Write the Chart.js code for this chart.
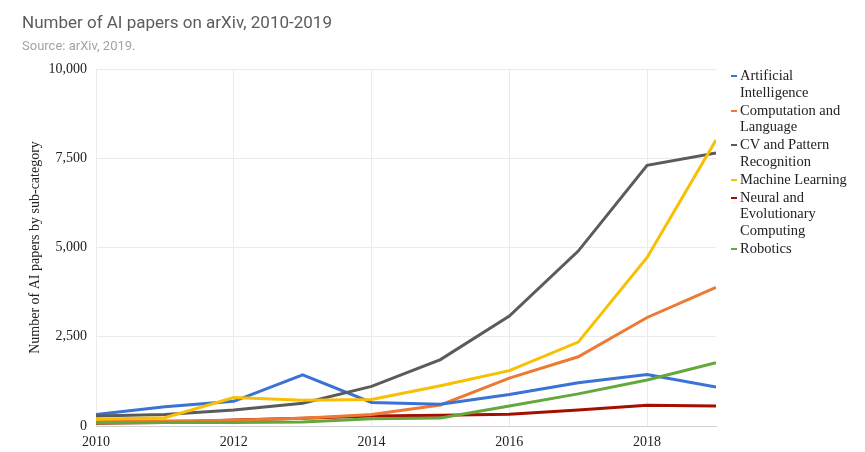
<!DOCTYPE html>
<html>
<head>
<meta charset="utf-8">
<script src="https://cdn.jsdelivr.net/npm/chart.js@4.4.1/dist/chart.umd.min.js"></script>
<style>
  html, body { margin: 0; padding: 0; background: #fff; }
  #wrap { position: relative; width: 865px; height: 452px; overflow: hidden; }
  #c { position: absolute; left: 0; top: 0; }
  #title { position: absolute; left: 22px; top: 12px; font-family: Roboto, sans-serif; font-size: 17px; color: #5c5c5c; white-space: nowrap; }
  #subtitle { position: absolute; left: 22px; top: 38px; font-family: Roboto, sans-serif; font-size: 13px; color: #a3a3a3; white-space: nowrap; }
  #legend { position: absolute; left: 728px; top: 67px; font-family: "Liberation Serif", serif; font-size: 14.5px; color: #222; }
  .item { position: relative; padding-left: 12px; width: 120px; line-height: 16.5px; margin-bottom: 1.5px; }
  .mark { position: absolute; left: 3px; top: 8px; width: 6px; height: 2px; }
</style>
</head>
<body>
<div id="wrap">
  <canvas id="c" width="865" height="452"></canvas>
  <div id="title">Number of AI papers on arXiv, 2010-2019</div>
  <div id="subtitle">Source: arXiv, 2019.</div>
  <div id="legend"></div>
</div>
<script>
const years = [2010, 2011, 2012, 2013, 2014, 2015, 2016, 2017, 2018, 2019];
const seriesNames = ["Artificial Intelligence", "Computation and Language", "CV and Pattern Recognition", "Machine Learning", "Neural and Evolutionary Computing", "Robotics"];
const artificialIntelligence = [320, 540, 690, 1430, 660, 610, 880, 1210, 1440, 1090];
const computationLanguage    = [140, 140, 160, 220, 320, 590, 1340, 1940, 3040, 3880];
const cvPattern              = [280, 320, 450, 640, 1110, 1860, 3080, 4900, 7300, 7650];
const machineLearning        = [190, 230, 800, 720, 740, 1130, 1550, 2350, 4720, 8010];
const neuralEvolutionary     = [80, 95, 170, 215, 280, 300, 330, 450, 580, 560];
const robotics               = [90, 95, 100, 115, 205, 225, 560, 900, 1290, 1770];
const yTicks = [0, 2500, 5000, 7500, 10000];
const xTicks = [2010, 2012, 2014, 2016, 2018];

const colors = ["#3a72d6", "#ec7a35", "#5b5b5b", "#f7c000", "#a50f00", "#64a83c"];
const values = [artificialIntelligence, computationLanguage, cvPattern, machineLearning, neuralEvolutionary, robotics];

const datasets = seriesNames.map((name, i) => ({
  label: name,
  data: years.map((y, j) => ({ x: y, y: values[i][j] })),
  borderColor: colors[i],
  backgroundColor: colors[i],
  borderWidth: 3,
  pointRadius: 0,
  tension: 0,
  fill: false
}));

// draw order: later datasets on top; reference shows yellow over gray, green over red
const order = [4, 1, 0, 2, 5, 3];
datasets.forEach((d, i) => { d.order = 10 - order.indexOf(i); });

const serif = "'Liberation Serif', 'Times New Roman', serif";

new Chart(document.getElementById('c'), {
  type: 'line',
  data: { datasets },
  options: {
    responsive: false,
    animation: false,
    layout: { padding: { left: 0, right: 149, top: 69, bottom: 0 } },
    plugins: { legend: { display: false }, tooltip: { enabled: false } },
    scales: {
      x: {
        type: 'linear',
        min: 2010, max: 2019,
        afterBuildTicks: s => { s.ticks = xTicks.map(v => ({ value: v })); },
        ticks: { callback: v => String(v), font: { family: serif, size: 14 }, color: '#222', padding: 8, maxRotation: 0 },
        grid: { color: '#ebebeb', drawTicks: false },
        border: { color: '#d0d0d0' },
        afterFit: s => { s.height = 26; }
      },
      y: {
        min: 0, max: 10000,
        afterBuildTicks: s => { s.ticks = yTicks.map(v => ({ value: v })); },
        ticks: { callback: v => v.toLocaleString('en-US'), font: { family: serif, size: 14 }, color: '#222', padding: 9 },
        grid: { color: '#ebebeb', drawTicks: false },
        border: { display: false },
        title: { display: true, text: 'Number of AI papers by sub-category', font: { family: serif, size: 14 }, color: '#222', padding: { top: 27, bottom: 0 } },
        afterFit: s => { s.width = 96; }
      }
    }
  }
});

const legend = document.getElementById('legend');
seriesNames.forEach((name, i) => {
  const item = document.createElement('div');
  item.className = 'item';
  const m = document.createElement('span');
  m.className = 'mark';
  m.style.background = colors[i];
  item.appendChild(m);
  item.appendChild(document.createTextNode(name));
  legend.appendChild(item);
});
</script>
</body>
</html>
